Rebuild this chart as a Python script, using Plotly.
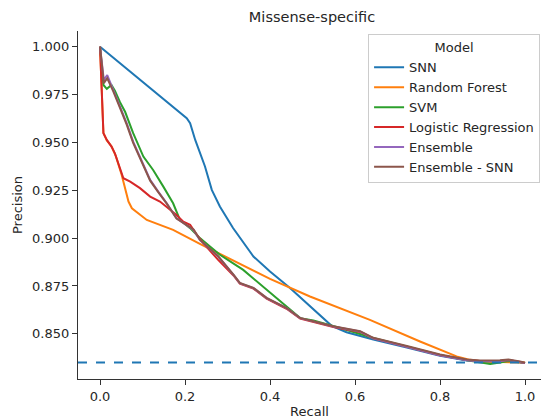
import plotly.graph_objects as go

# ---- data ----
snn_recall = [0.0, 0.204, 0.212, 0.224, 0.247, 0.263, 0.282, 0.313, 0.361, 0.400, 0.447, 0.486, 0.518, 0.545,
              0.580, 0.643, 0.722, 0.800, 0.863, 0.894, 0.941, 0.961, 0.988, 1.0]
snn_prec = [1.0, 0.9626, 0.9600, 0.9513, 0.9374, 0.9252, 0.9165, 0.9053, 0.8904, 0.8825, 0.8739, 0.8660, 0.8599, 0.8542,
            0.8508, 0.8470, 0.8428, 0.8385, 0.8360, 0.8355, 0.8352, 0.8356, 0.8351, 0.8347]

rf_recall = [0.0, 0.008, 0.016, 0.027, 0.037, 0.051, 0.067, 0.075, 0.110, 0.172, 0.235, 0.400, 0.494, 0.635,
             0.753, 0.808, 0.839, 0.871, 0.900, 1.0]
rf_prec = [1.0, 0.955, 0.951, 0.948, 0.943, 0.933, 0.9191, 0.9156, 0.9095, 0.9043, 0.8970, 0.8787, 0.8695, 0.8573,
           0.8460, 0.8408, 0.8382, 0.8364, 0.8355, 0.8350]

svm_recall = [0.0, 0.008, 0.016, 0.027, 0.035, 0.047, 0.059, 0.078, 0.102, 0.125, 0.149, 0.172, 0.188, 0.212,
              0.235, 0.259, 0.282, 0.337, 0.369, 0.400, 0.439, 0.471, 0.502, 0.541, 0.565, 0.643, 0.722, 0.800,
              0.863, 0.894, 0.918, 0.941, 0.961, 0.988, 1.0]
svm_prec = [1.0, 0.980, 0.978, 0.980, 0.977, 0.971, 0.966, 0.9548, 0.9426, 0.9356, 0.9269, 0.9182, 0.9095, 0.9052,
            0.9000, 0.8956, 0.8913, 0.8834, 0.8773, 0.8713, 0.8643, 0.8582, 0.8570, 0.8547, 0.8530, 0.8478, 0.8434,
            0.8390, 0.8362, 0.8352, 0.8343, 0.8350, 0.8358, 0.8352, 0.8347]

lr_recall = [0.0, 0.008, 0.016, 0.027, 0.035, 0.055, 0.071, 0.094, 0.118, 0.141, 0.165, 0.180, 0.196, 0.212,
             0.228, 0.243, 0.278, 0.314, 0.329, 0.361, 0.392, 0.439, 0.471, 0.518, 0.549, 0.612, 0.643, 0.722,
             0.800, 0.863, 0.894, 0.941, 0.961, 0.988, 1.0]
lr_prec = [1.0, 0.9548, 0.9513, 0.9478, 0.9443, 0.9313, 0.9295, 0.9261, 0.9217, 0.9191, 0.9148, 0.9121, 0.9086, 0.9069,
           0.9017, 0.8974, 0.8886, 0.8805, 0.8762, 0.8736, 0.8684, 0.8631, 0.8579, 0.8553, 0.8536, 0.8510, 0.8476, 0.8432,
           0.8388, 0.8363, 0.8358, 0.8358, 0.8363, 0.8353, 0.8347]

ens_recall = [0.0, 0.009, 0.017, 0.031, 0.047, 0.063, 0.078, 0.098, 0.118, 0.137, 0.157, 0.180, 0.204, 0.220,
              0.235, 0.259, 0.278, 0.314, 0.329, 0.361, 0.392, 0.439, 0.471, 0.518, 0.549, 0.612, 0.643, 0.722,
              0.800, 0.863, 0.894, 0.941, 0.961, 0.988, 1.0]
ens_prec = [1.0, 0.9826, 0.9852, 0.9774, 0.9687, 0.9600, 0.9504, 0.9400, 0.9304, 0.9243, 0.9182, 0.9104, 0.9069, 0.9043,
            0.8990, 0.8939, 0.8904, 0.8808, 0.8765, 0.8739, 0.8687, 0.8634, 0.8582, 0.8556, 0.8538, 0.8512, 0.8476, 0.8432,
            0.8388, 0.8362, 0.8357, 0.8358, 0.8363, 0.8353, 0.8347]

enss_recall = [0.0, 0.009, 0.017, 0.031, 0.047, 0.063, 0.078, 0.098, 0.118, 0.137, 0.157, 0.180, 0.204, 0.220,
               0.235, 0.259, 0.278, 0.314, 0.329, 0.361, 0.392, 0.439, 0.471, 0.518, 0.549, 0.612, 0.643, 0.722,
               0.800, 0.863, 0.894, 0.941, 0.961, 0.988, 1.0]
enss_prec = [1.0, 0.9810, 0.9835, 0.9768, 0.9680, 0.9592, 0.9498, 0.9395, 0.9300, 0.9240, 0.9180, 0.9102, 0.9069, 0.9045,
             0.8992, 0.8941, 0.8905, 0.8809, 0.8766, 0.8740, 0.8688, 0.8635, 0.8583, 0.8557, 0.8540, 0.8514, 0.8479, 0.8436,
             0.8392, 0.8366, 0.8361, 0.8362, 0.8366, 0.8356, 0.8349]

baseline = 0.835

names = ["SNN", "Random Forest", "SVM", "Logistic Regression", "Ensemble", "Ensemble - SNN"]
colors = ["#1f77b4", "#ff7f0e", "#2ca02c", "#d62728", "#9467bd", "#8c564b"]
series = [(snn_recall, snn_prec), (rf_recall, rf_prec), (svm_recall, svm_prec),
          (lr_recall, lr_prec), (ens_recall, ens_prec), (enss_recall, enss_prec)]

FONT = "DejaVu Sans"
TXT = "#262626"

fig = go.Figure()
for name, col, (xs, ys) in zip(names, colors, series):
    fig.add_trace(go.Scatter(x=xs, y=ys, mode="lines", name=name,
                             line=dict(color=col, width=2)))

fig.add_hline(y=baseline, line=dict(color="#1f77b4", width=2, dash="dash"))

fig.update_layout(
    width=541, height=419,
    margin=dict(l=78, r=0, t=31, b=40),
    paper_bgcolor="white", plot_bgcolor="white",
    font=dict(family=FONT, size=13, color=TXT),
    title=dict(text="Missense-specific", x=(78 + 546) / 2 / 541, xanchor="center",
               y=1 - 17 / 419, yanchor="middle", font=dict(size=14.5, color=TXT)),
    showlegend=True,
    legend=dict(title=dict(text="Model", side="top center", font=dict(size=13, color=TXT)),
                x=0.998, xanchor="right", y=0.99, yanchor="top",
                bgcolor="white", bordercolor="#cccccc", borderwidth=1,
                font=dict(size=13, color=TXT), tracegroupgap=0, itemwidth=30),
)
fig.update_xaxes(range=[-0.0518, 1.0376], tickvals=[0.0, 0.2, 0.4, 0.6, 0.8, 1.0],
                 tickformat=".1f", showgrid=False, zeroline=False,
                 showline=True, linecolor="#333333", linewidth=1.25,
                 ticks="outside", ticklen=5, tickwidth=1.25, tickcolor="#333333",
                 title=dict(text="Recall", standoff=4, font=dict(size=13, color=TXT)))
fig.update_yaxes(range=[0.8264, 1.0082], tickvals=[0.85, 0.875, 0.9, 0.925, 0.95, 0.975, 1.0],
                 tickformat=".3f", showgrid=False, zeroline=False,
                 showline=True, linecolor="#333333", linewidth=1.25,
                 ticks="outside", ticklen=5, tickwidth=1.25, tickcolor="#333333",
                 title=dict(text="Precision", standoff=6, font=dict(size=13, color=TXT)))

fig.write_html("out.html")
